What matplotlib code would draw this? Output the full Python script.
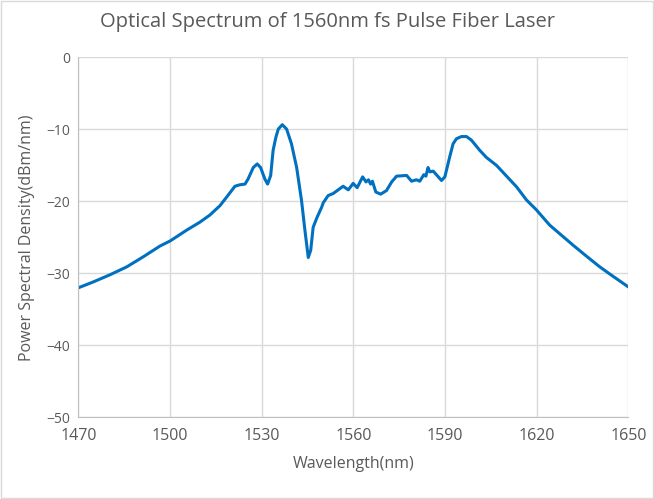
import numpy as np
import matplotlib.pyplot as plt

# wavelength (nm) and power spectral density (dBm/nm)
wavelength = [1470, 1474.8, 1480.3, 1485.8, 1491.2, 1496.7, 1500, 1505.4, 1509.7, 1513,
              1516.3, 1518.5, 1521.2, 1522.8, 1524.5, 1525.5, 1527.2, 1528.5, 1529.6, 1531.0,
              1531.9, 1532.9, 1533.7, 1534.6, 1535.4, 1536.7, 1538.1, 1539.7, 1541.4, 1543.0,
              1544.1, 1545.2, 1546.0, 1546.8, 1548.1, 1549.6, 1550.1, 1551.7, 1553.4, 1555.0,
              1556.6, 1558.3, 1559.9, 1561.2, 1563.0, 1564.1, 1564.9, 1565.6, 1566.2, 1567.3,
              1568.9, 1570.8, 1572.5, 1574.1, 1577.4, 1579.0, 1580.6, 1581.7, 1583.0, 1583.7,
              1584.4, 1585.0, 1586.1, 1588.8, 1589.9, 1591.5, 1592.6, 1593.7, 1595.3, 1597.0,
              1598.6, 1601.3, 1603.5, 1606.8, 1610.1, 1613.4, 1616.6, 1619.9, 1624.2, 1627.5,
              1631.9, 1636.2, 1640.6, 1644.9, 1650]
psd = [-32.0, -31.2, -30.2, -29.1, -27.7, -26.2, -25.5, -24.0, -22.9, -21.9,
       -20.6, -19.4, -17.9, -17.7, -17.6, -16.9, -15.3, -14.8, -15.3, -16.9,
       -17.6, -16.4, -12.9, -11.1, -9.95, -9.35, -9.95, -12.0, -15.3, -19.9,
       -24.0, -27.8, -26.8, -23.6, -22.2, -20.8, -20.2, -19.2, -18.9, -18.4,
       -17.9, -18.4, -17.5, -18.1, -16.6, -17.3, -17.0, -17.6, -17.2, -18.7,
       -19.0, -18.5, -17.3, -16.5, -16.4, -17.2, -17.0, -17.2, -16.3, -16.5,
       -15.3, -15.9, -15.8, -17.1, -16.6, -13.8, -12.0, -11.3, -11.0, -11.0,
       -11.5, -12.9, -13.9, -15.0, -16.5, -18.0, -19.8, -21.2, -23.3, -24.5,
       -26.1, -27.6, -29.1, -30.4, -31.9]

x_ticks = [1470, 1500, 1530, 1560, 1590, 1620, 1650]
y_ticks = [0, -10, -20, -30, -40, -50]

plt.rcParams['font.family'] = ['Open Sans', 'DejaVu Sans']
text_col = '#595959'
grid_col = '#D9D9D9'

fig = plt.figure(figsize=(6.54, 4.99), dpi=100)
ax = fig.add_axes([0.120, 0.1637, 0.841, 0.7213])

ax.plot(wavelength, psd, color='#0070C0', linewidth=2.2,
        solid_joinstyle='round', solid_capstyle='round')

ax.set_xlim(1470, 1650)
ax.set_ylim(-50, 0)
ax.set_xticks(x_ticks)
ax.set_yticks(y_ticks)
ax.tick_params(axis='x', labelsize=11.5, colors=text_col, length=0, pad=8)
ax.tick_params(axis='y', labelsize=10, colors=text_col, length=0, pad=6)
ax.grid(True, color=grid_col, linewidth=1)
ax.set_axisbelow(True)
for side in ['top', 'right']:
    ax.spines[side].set_visible(False)
for side in ['left', 'bottom']:
    ax.spines[side].set_color('#BFBFBF')

ax.set_xlabel('Wavelength(nm)', fontsize=11.5, color=text_col, labelpad=8)
ax.set_ylabel('Power Spectral Density(dBm/nm)', fontsize=11.5, color=text_col, labelpad=8)
fig.suptitle('Optical Spectrum of 1560nm fs Pulse Fiber Laser', fontsize=14.5, color=text_col, y=0.975)

# outer chart border
fig.patches.append(plt.Rectangle((0.002, 0.002), 0.996, 0.996, transform=fig.transFigure,
                                 fill=False, edgecolor='#D9D9D9', linewidth=1))

plt.savefig('out.png', dpi=100)
